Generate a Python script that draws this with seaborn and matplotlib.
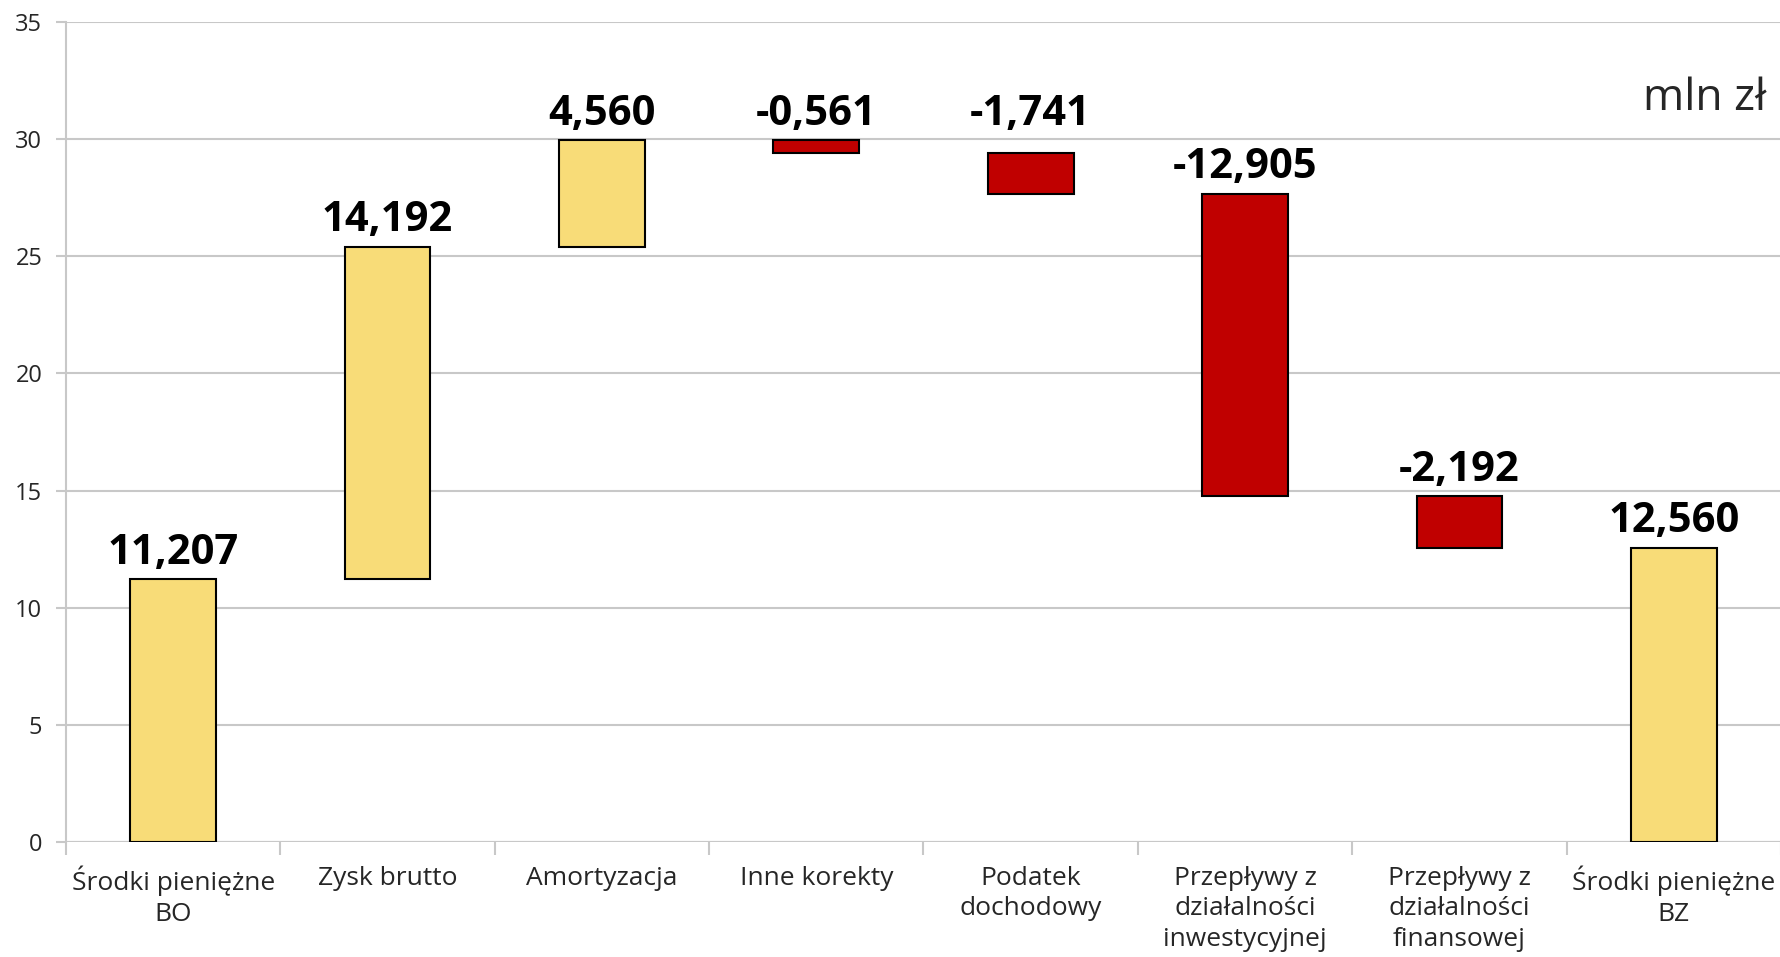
import matplotlib
matplotlib.use("Agg")
import matplotlib.pyplot as plt
import seaborn as sns
import numpy as np
import pandas as pd

categories = ["Środki pieniężne\nBO", "Zysk brutto", "Amortyzacja", "Inne korekty",
              "Podatek\ndochodowy", "Przepływy z\ndziałalności\ninwestycyjnej",
              "Przepływy z\ndziałalności\nfinansowej", "Środki pieniężne\nBZ"]
changes = [11.207, 14.192, 4.560, -0.561, -1.741, -12.905, -2.192, 12.560]
labels = ["11,207", "14,192", "4,560", "-0,561", "-1,741", "-12,905", "-2,192", "12,560"]
is_total = [True, False, False, False, False, False, False, True]
y_ticks = [0, 5, 10, 15, 20, 25, 30, 35]

# waterfall geometry derived from the values
bottoms, heights, tops = [], [], []
cum = 0.0
for v, tot in zip(changes, is_total):
    if tot:
        bottoms.append(0.0); heights.append(v); tops.append(v); cum = v
    else:
        new = cum + v
        bottoms.append(min(cum, new)); heights.append(abs(v)); tops.append(max(cum, new)); cum = new

df = pd.DataFrame({"cat": categories, "h": heights})

sns.set_theme(style="white")
plt.rcParams['font.family'] = ['Open Sans', 'DejaVu Sans']

fig = plt.figure(figsize=(17.81, 9.57), dpi=100)
ax = fig.add_axes([66/1781, 1-842/957, 1-66/1781, (842-22)/957])

sns.barplot(data=df, x="cat", y="h", bottom=bottoms, width=0.4, ax=ax,
            color="#F8DC78", edgecolor="black", linewidth=1.5, errorbar=None)

yellow, red = "#F8DC78", "#C00000"
for p, v in zip(ax.patches, changes):
    p.set_facecolor(yellow if v >= 0 else red)
    p.set_edgecolor("black")
    p.set_linewidth(1.5)

# labels: keep a label level with its neighbour when bar tops are close
label_y = []
for i, t in enumerate(tops):
    y = t
    if i > 0 and 0 < label_y[-1] - t < 1.0:
        y = label_y[-1]
    label_y.append(y)

for i, (y, lab) in enumerate(zip(label_y, labels)):
    ax.annotate(lab, (i, y), xytext=(0, 4), textcoords="offset points",
                ha="center", va="bottom", fontsize=30, fontweight="bold", color="black")

ax.set_ylim(0, 35)
ax.set_xlim(-0.5, len(categories) - 0.5)
ax.set_yticks(y_ticks)
ax.yaxis.grid(True, color="#c8c8c8", linewidth=1.5)
ax.set_axisbelow(True)
ax.set_xlabel("")
ax.set_ylabel("")
for s in ["top", "right", "bottom"]:
    ax.spines[s].set_visible(False)
ax.spines["left"].set_color("#c8c8c8")
ax.spines["left"].set_linewidth(1.5)
ax.axhline(0, color="#c8c8c8", linewidth=1.5, zorder=0.5)

ax.tick_params(axis="y", which="major", length=7, width=1.5, color="#c8c8c8",
               labelsize=17, pad=10, left=True)
ax.tick_params(axis="x", which="major", length=0, labelsize=19, pad=17)
ax.set_xticks(range(len(categories)))
ax.set_xticklabels(categories, linespacing=1.3)
ax.set_xticks(np.arange(-0.5, len(categories) + 0.5, 1), minor=True)
ax.tick_params(axis="x", which="minor", length=9, width=1.5, color="#c8c8c8", bottom=True)

fig.text(1766/1781, 1-110/957, "mln zł", ha="right", va="baseline", fontsize=32)

fig.savefig("out.png", dpi=100)
